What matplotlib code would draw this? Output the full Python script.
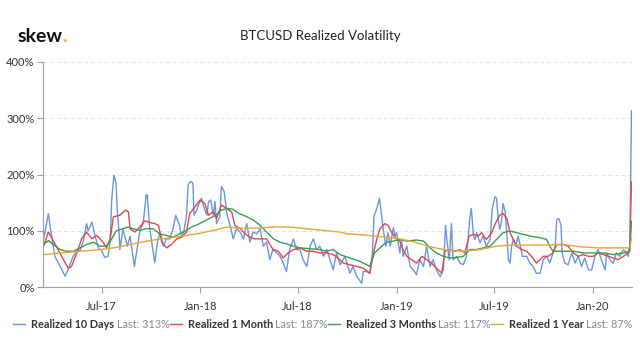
import matplotlib
matplotlib.use('Agg')
import matplotlib.pyplot as plt
import matplotlib.dates as mdates
from matplotlib.lines import Line2D
import pandas as pd

# realized vol (%), Mar 2017 - Mar 2020
d10_dates = ['2017-03-14', '2017-03-24', '2017-03-27', '2017-04-05', '2017-04-15', '2017-04-24', '2017-04-27',
             '2017-05-03', '2017-05-09', '2017-05-16', '2017-05-22', '2017-05-28', '2017-06-03', '2017-06-06',
             '2017-06-13', '2017-06-19', '2017-06-25', '2017-07-01', '2017-07-07', '2017-07-13', '2017-07-17',
             '2017-07-20', '2017-07-24', '2017-07-28', '2017-07-30', '2017-08-03', '2017-08-04', '2017-08-10',
             '2017-08-18', '2017-08-23', '2017-08-31', '2017-09-10', '2017-09-17', '2017-09-22', '2017-09-24',
             '2017-09-28', '2017-10-02', '2017-10-08', '2017-10-13', '2017-10-18', '2017-10-24', '2017-10-29',
             '2017-11-05', '2017-11-11', '2017-11-16', '2017-11-23', '2017-11-27', '2017-12-01', '2017-12-06',
             '2017-12-09', '2017-12-14', '2017-12-18', '2017-12-20', '2017-12-25', '2017-12-28', '2018-01-03',
             '2018-01-08', '2018-01-13', '2018-01-16', '2018-01-20', '2018-01-25', '2018-01-28', '2018-01-31',
             '2018-02-06', '2018-02-09', '2018-02-14', '2018-02-19', '2018-02-25', '2018-03-03', '2018-03-09',
             '2018-03-16', '2018-03-22', '2018-03-28', '2018-04-03', '2018-04-09', '2018-04-16', '2018-04-22',
             '2018-04-28', '2018-05-04', '2018-05-10', '2018-05-16', '2018-05-23', '2018-05-29', '2018-06-04',
             '2018-06-10', '2018-06-16', '2018-06-23', '2018-06-29', '2018-07-05', '2018-07-11', '2018-07-18',
             '2018-07-24', '2018-07-30', '2018-08-05', '2018-08-11', '2018-08-18', '2018-08-24', '2018-08-30',
             '2018-09-05', '2018-09-11', '2018-09-18', '2018-09-27', '2018-10-06', '2018-10-12', '2018-10-19',
             '2018-10-28', '2018-10-31', '2018-11-06', '2018-11-12', '2018-11-17', '2018-11-20', '2018-11-25',
             '2018-11-30', '2018-12-04', '2018-12-07', '2018-12-12', '2018-12-16', '2018-12-20', '2018-12-26',
             '2018-12-29', '2019-01-01', '2019-01-07', '2019-01-10', '2019-01-13', '2019-01-20', '2019-01-26',
             '2019-02-01', '2019-02-07', '2019-02-13', '2019-02-20', '2019-02-26', '2019-03-04', '2019-03-10',
             '2019-03-16', '2019-03-23', '2019-03-29', '2019-04-02', '2019-04-05', '2019-04-09', '2019-04-13',
             '2019-04-16', '2019-04-23', '2019-04-29', '2019-05-05', '2019-05-11', '2019-05-14', '2019-05-17',
             '2019-05-20', '2019-05-24', '2019-05-27', '2019-05-30', '2019-06-05', '2019-06-11', '2019-06-17',
             '2019-06-24', '2019-06-28', '2019-07-03', '2019-07-06', '2019-07-09', '2019-07-12', '2019-07-15',
             '2019-07-18', '2019-07-22', '2019-07-25', '2019-07-28', '2019-07-31', '2019-08-03', '2019-08-06',
             '2019-08-11', '2019-08-15', '2019-08-18', '2019-08-23', '2019-08-31', '2019-09-06', '2019-09-12',
             '2019-09-18', '2019-09-25', '2019-10-01', '2019-10-07', '2019-10-13', '2019-10-19', '2019-10-23',
             '2019-10-26', '2019-10-30', '2019-11-03', '2019-11-05', '2019-11-10', '2019-11-16', '2019-11-23',
             '2019-11-29', '2019-12-05', '2019-12-11', '2019-12-17', '2019-12-24', '2019-12-30', '2020-01-05',
             '2020-01-11', '2020-01-17', '2020-01-24', '2020-01-27', '2020-02-02', '2020-02-08', '2020-02-14',
             '2020-02-20', '2020-02-27', '2020-03-04', '2020-03-07', '2020-03-10', '2020-03-13']
d10_vals = [80, 131, 110, 55, 37, 20, 25,
            40, 55, 64, 66, 82, 113, 100,
            116, 91, 70, 65, 53, 55, 82,
            158, 199, 185, 140, 91, 67, 103,
            73, 91, 37, 98, 119, 164, 164,
            110, 82, 44, 80, 98, 73, 86,
            86, 104, 128, 110, 89, 98, 128,
            182, 188, 185, 128, 137, 146, 158,
            140, 128, 152, 155, 128, 152, 113,
            125, 179, 170, 131, 110, 86, 104,
            98, 86, 113, 80, 98, 95, 104,
            73, 80, 49, 67, 61, 55, 43,
            28, 67, 86, 67, 67, 49, 37,
            73, 86, 67, 73, 55, 67, 49,
            31, 61, 40, 55, 25, 37, 19,
            7, 28, 28, 25, 61, 127, 139,
            158, 128, 103, 73, 97, 73, 106,
            91, 97, 61, 85, 55, 73, 37,
            31, 22, 49, 37, 73, 37, 49,
            31, 19, 31, 110, 80, 49, 113,
            49, 55, 43, 40, 55, 85, 121,
            140, 91, 85, 97, 79, 91, 73,
            85, 140, 161, 158, 121, 103, 115,
            149, 134, 97, 49, 43, 73, 85,
            73, 91, 79, 55, 55, 43, 37,
            25, 25, 49, 55, 43, 61, 73,
            120, 122, 110, 61, 43, 40, 61,
            43, 55, 37, 52, 31, 31, 55,
            67, 49, 31, 61, 49, 43, 61,
            55, 67, 61, 55, 73, 313]

m1_dates = ['2017-03-15', '2017-03-24', '2017-04-02', '2017-04-11', '2017-04-21', '2017-04-30', '2017-05-06',
            '2017-05-16', '2017-05-25', '2017-06-03', '2017-06-13', '2017-06-22', '2017-07-04', '2017-07-10',
            '2017-07-17', '2017-07-23', '2017-08-04', '2017-08-14', '2017-08-20', '2017-08-23', '2017-09-01',
            '2017-09-10', '2017-09-20', '2017-09-29', '2017-10-08', '2017-10-15', '2017-10-21', '2017-10-30',
            '2017-11-08', '2017-11-18', '2017-11-27', '2017-12-06', '2017-12-12', '2017-12-22', '2017-12-31',
            '2018-01-09', '2018-01-16', '2018-01-25', '2018-01-31', '2018-02-09', '2018-02-19', '2018-02-28',
            '2018-03-06', '2018-03-16', '2018-03-25', '2018-04-03', '2018-04-12', '2018-04-22', '2018-05-04',
            '2018-05-16', '2018-05-26', '2018-06-04', '2018-06-13', '2018-06-23', '2018-07-05', '2018-07-18',
            '2018-07-30', '2018-08-11', '2018-08-24', '2018-09-05', '2018-09-14', '2018-09-24', '2018-10-06',
            '2018-10-19', '2018-10-31', '2018-11-12', '2018-11-19', '2018-11-25', '2018-12-01', '2018-12-10',
            '2018-12-16', '2018-12-23', '2019-01-01', '2019-01-07', '2019-01-13', '2019-01-20', '2019-01-29',
            '2019-02-07', '2019-02-17', '2019-02-26', '2019-03-07', '2019-03-16', '2019-03-26', '2019-04-01',
            '2019-04-10', '2019-04-19', '2019-04-29', '2019-05-08', '2019-05-16', '2019-05-24', '2019-06-02',
            '2019-06-08', '2019-06-17', '2019-06-27', '2019-07-03', '2019-07-12', '2019-07-18', '2019-07-25',
            '2019-07-31', '2019-08-06', '2019-08-12', '2019-08-22', '2019-08-31', '2019-09-09', '2019-09-18',
            '2019-09-25', '2019-10-01', '2019-10-10', '2019-10-19', '2019-10-26', '2019-11-07', '2019-11-16',
            '2019-11-26', '2019-12-05', '2019-12-14', '2019-12-24', '2020-01-02', '2020-01-11', '2020-01-21',
            '2020-01-30', '2020-02-08', '2020-02-17', '2020-02-27', '2020-03-07', '2020-03-10', '2020-03-13']
m1_vals = [73, 98, 83, 67, 49, 34, 37,
           61, 86, 98, 86, 92, 80, 70,
           86, 125, 128, 137, 134, 104, 98,
           107, 118, 115, 113, 110, 80, 70,
           76, 86, 89, 98, 131, 143, 155,
           149, 128, 134, 122, 146, 140, 134,
           110, 104, 95, 89, 86, 86, 86,
           67, 64, 52, 61, 67, 70, 64,
           64, 61, 61, 58, 52, 43, 40,
           37, 34, 25, 61, 85, 104, 113,
           110, 97, 85, 82, 67, 55, 49,
           43, 55, 49, 43, 34, 25, 64,
           67, 64, 67, 61, 91, 94, 91,
           97, 85, 97, 112, 128, 131, 122,
           97, 85, 73, 67, 64, 55, 43,
           49, 55, 55, 61, 76, 76, 73,
           61, 55, 58, 55, 55, 61, 58,
           55, 52, 49, 55, 61, 73, 187]

m3_dates = ['2017-03-15', '2017-03-24', '2017-04-02', '2017-04-15', '2017-04-27', '2017-05-09', '2017-05-22',
            '2017-06-03', '2017-06-16', '2017-06-28', '2017-07-10', '2017-07-20', '2017-07-28', '2017-08-09',
            '2017-08-19', '2017-08-28', '2017-09-10', '2017-09-22', '2017-10-05', '2017-10-17', '2017-10-30',
            '2017-11-11', '2017-11-23', '2017-12-06', '2017-12-15', '2017-12-24', '2018-01-05', '2018-01-17',
            '2018-01-30', '2018-02-08', '2018-02-20', '2018-03-01', '2018-03-14', '2018-03-29', '2018-04-10',
            '2018-04-22', '2018-05-04', '2018-05-17', '2018-05-29', '2018-06-11', '2018-06-23', '2018-07-05',
            '2018-07-18', '2018-07-30', '2018-08-11', '2018-08-24', '2018-09-05', '2018-09-18', '2018-10-06',
            '2018-10-25', '2018-11-12', '2018-11-21', '2018-12-01', '2018-12-13', '2018-12-26', '2019-01-07',
            '2019-01-20', '2019-02-07', '2019-02-20', '2019-03-04', '2019-03-16', '2019-03-29', '2019-04-10',
            '2019-04-23', '2019-05-05', '2019-05-17', '2019-05-30', '2019-06-11', '2019-06-24', '2019-07-06',
            '2019-07-18', '2019-07-31', '2019-08-12', '2019-08-24', '2019-09-06', '2019-09-25', '2019-10-07',
            '2019-10-13', '2019-10-19', '2019-11-01', '2019-11-26', '2019-12-14', '2020-01-02', '2020-01-21',
            '2020-02-08', '2020-02-27', '2020-03-10', '2020-03-13']
m3_vals = [76, 83, 76, 67, 64, 64, 70,
           76, 80, 73, 73, 86, 100, 104,
           107, 104, 101, 104, 104, 95, 92,
           89, 95, 101, 107, 110, 116, 122,
           128, 137, 140, 139, 131, 125, 119,
           110, 98, 86, 80, 77, 73, 70,
           69, 68, 67, 64, 67, 58, 52,
           46, 37, 61, 70, 80, 82, 85,
           82, 84, 82, 70, 61, 55, 52,
           53, 55, 67, 67, 70, 73, 85,
           97, 100, 97, 94, 91, 88, 85,
           73, 64, 64, 64, 61, 61, 61,
           58, 61, 64, 117]

y1_dates = ['2017-03-15', '2017-04-15', '2017-05-22', '2017-06-28', '2017-07-23', '2017-08-23', '2017-09-29',
            '2017-10-30', '2017-12-06', '2017-12-31', '2018-01-25', '2018-02-19', '2018-03-16', '2018-04-16',
            '2018-05-16', '2018-06-16', '2018-07-18', '2018-08-18', '2018-09-18', '2018-09-30', '2018-10-31',
            '2018-12-01', '2019-01-01', '2019-02-01', '2019-03-04', '2019-04-04', '2019-05-05', '2019-06-05',
            '2019-07-06', '2019-08-06', '2019-09-06', '2019-10-07', '2019-11-07', '2019-12-08', '2020-01-08',
            '2020-02-08', '2020-03-10', '2020-03-13']
y1_vals = [58, 61, 64, 67, 70, 76, 83,
           87, 92, 96, 101, 107, 105, 105,
           107, 107, 104, 101, 98, 95, 93,
           90, 87, 81, 72, 66, 64, 67,
           73, 75, 75, 75, 76, 72, 70,
           70, 70, 87]

names = ['Realized 10 Days', 'Realized 1 Month', 'Realized 3 Months', 'Realized 1 Year']
last_vals = [313, 187, 117, 87]
colors = ['#6a95df', '#e2474b', '#3a9e4c', '#e6a53a']

fig = plt.figure(figsize=(6.4, 3.57), dpi=100)
ax = fig.add_axes([43 / 640, 1 - 287.3 / 357, 589 / 640, 225.3 / 357])

series = [(d10_dates, d10_vals), (m1_dates, m1_vals), (m3_dates, m3_vals), (y1_dates, y1_vals)]
for (ds, vs), c in zip(series, colors):
    ax.plot(pd.to_datetime(ds), vs, color=c, lw=1.0)

ax.set_ylim(0, 400)
ax.set_xlim(pd.Timestamp('2017-03-14'), pd.Timestamp('2020-03-14'))
ax.set_yticks([0, 100, 200, 300, 400])
ax.set_yticklabels(['0%', '100%', '200%', '300%', '400%'])
xt = pd.to_datetime(['2017-07-01', '2018-01-01', '2018-07-01', '2019-01-01', '2019-07-01', '2020-01-01'])
ax.set_xticks(xt)
ax.xaxis.set_major_formatter(mdates.DateFormatter('%b-%y'))

for y in [100, 200, 300, 400]:
    ax.axhline(y, color='#e2e2e2', lw=0.7, ls=(0, (4, 3)), zorder=0)

for s in ['top', 'right']:
    ax.spines[s].set_visible(False)
ax.spines['left'].set_color('#a0a0a0')
ax.spines['bottom'].set_color('#a0a0a0')
ax.spines['left'].set_linewidth(0.8)
ax.spines['bottom'].set_linewidth(0.8)
ax.tick_params(axis='both', colors='#a0a0a0', labelcolor='#333333', labelsize=8, length=4, width=0.8)
ax.tick_params(axis='x', pad=6)
ax.tick_params(axis='y', pad=2)
for lab in ax.get_xticklabels() + ax.get_yticklabels():
    lab.set_family('Lato')

fig.text(320 / 640, 1 - 36 / 357, 'BTCUSD Realized Volatility', ha='center', va='center',
         fontsize=9.5, family='Lato', color='#222222')
t = fig.text(18 / 640, 1 - 36 / 357, 'skew', ha='left', va='center', fontsize=14,
             family='Lato', weight='bold', color='#111111')
fig.canvas.draw()
r = fig.canvas.get_renderer()
bb = t.get_window_extent(r)
fig.text((bb.x1 - 1) / 640, 1 - 36 / 357, '.', ha='left', va='center', fontsize=14,
         family='Lato', weight='bold', color='#f0b21c')

# legend built by hand: bold name + grey "Last" value
# first measure at 8pt, then scale so the row spans x=13..635 like the original
ly = 1 - 324 / 357
line_w, gap1, gap2 = 12, 6, 2.5
w8 = 0
for n, lv in zip(names, last_vals):
    for s, wt in [(n, 'bold'), ('Last: %d%%' % lv, 'normal')]:
        tmp = fig.text(0, 0, s, fontsize=8, family='Lato', weight=wt)
        w8 += tmp.get_window_extent(r).width
        tmp.remove()
fs = 8 * (635 - 13 - 4 * (line_w + gap1 + gap2)) / w8

x = 13
for n, lv, c in zip(names, last_vals, colors):
    fig.add_artist(Line2D([x / 640, (x + line_w) / 640], [ly, ly], color=c, lw=1.0, transform=fig.transFigure))
    x += line_w + gap1
    t1 = fig.text(x / 640, ly, n, ha='left', va='center', fontsize=fs, family='Lato',
                  weight='bold', color='#333333')
    x += t1.get_window_extent(r).width + gap2
    t2 = fig.text(x / 640, ly, 'Last: %d%%' % lv, ha='left', va='center', fontsize=fs,
                  family='Lato', color='#8a8a8a')
    x += t2.get_window_extent(r).width

fig.savefig('out.png', dpi=100)
